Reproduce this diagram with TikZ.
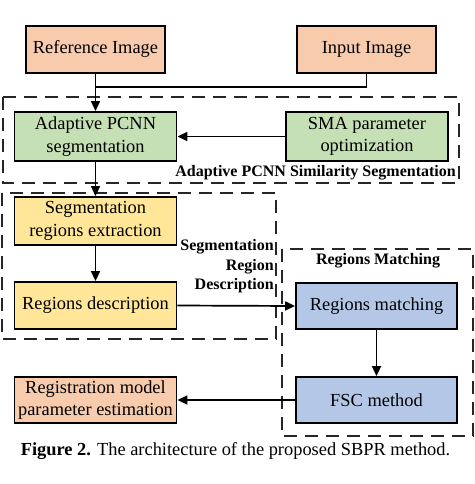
\documentclass[tikz,border=0pt]{standalone}
\usepackage{fontspec}
\setmainfont{Liberation Serif}
\usetikzlibrary{arrows.meta}
\definecolor{peach}{HTML}{F8CBAD}
\definecolor{sgreen}{HTML}{C5E0B4}
\definecolor{syellow}{HTML}{FFE699}
\definecolor{sblue}{HTML}{B4C7E7}
\tikzset{
  blk/.style={draw=black, line width=1.8pt, align=center, inner sep=0pt,
    font=\fontsize{18.4}{22.5}\selectfont},
  grp/.style={draw=black!85, line width=1.8pt, dash pattern=on 13pt off 8pt},
  arr/.style={line width=1.7pt, -{Triangle[length=10pt,width=9pt]}},
  con/.style={line width=1.7pt},
  lbl/.style={font=\fontsize{16}{19.3}\selectfont\bfseries, inner sep=0pt},
}
\begin{document}
\begin{tikzpicture}[x=1pt,y=-1pt]
\useasboundingbox (0,0) rectangle (474,484);
% group boxes
\draw[grp] (3,97) rectangle (459,183);
\draw[grp] (2,193) rectangle (276,339);
\draw[grp] (282,249) rectangle (473,436);
% blocks
\node[blk, fill=peach, minimum width=139pt, minimum height=47pt] (ref) at (95.5,49.5) {Reference Image};
\node[blk, fill=peach, minimum width=139pt, minimum height=47pt] (inp) at (366.5,49.5) {Input Image};
\node[blk, fill=sgreen, minimum width=162pt, minimum height=49pt] (apc) at (95.5,136.5) {Adaptive PCNN\\segmentation};
\node[blk, fill=sgreen, minimum width=162pt, minimum height=49pt] (sma) at (367,136.5) {SMA parameter\\optimization};
\node[blk, fill=syellow, minimum width=162pt, minimum height=48pt] (sre) at (95.5,221) {Segmentation\\regions extraction};
\node[blk, fill=syellow, minimum width=162pt, minimum height=47pt] (rd) at (95.5,305.5) {Regions description};
\node[blk, fill=sblue, minimum width=161pt, minimum height=46pt] (rm) at (376.5,306) {Regions matching};
\node[blk, fill=sblue, minimum width=161pt, minimum height=46pt] (fsc) at (376.5,400) {FSC method};
\node[blk, fill=peach, minimum width=162pt, minimum height=46pt] (rmp) at (95.5,400) {Registration model\\parameter estimation};
% labels
\node[lbl, anchor=base east] (l1) at (456,176) {Adaptive PCNN Similarity Segmentation};
\node[lbl, align=right, anchor=north east] (l2) at (274,239.5) {Segmentation\\Region\\Description};
\node[lbl] (l3) at (378,260.5) {Regions Matching};
\node[font=\fontsize{18.4}{22}\selectfont, anchor=base] (cap) at (235.5,455) {\textbf{Figure 2.} The architecture of the proposed SBPR method.};
% connectors
\coordinate (j) at (ref.south |- 0,87);
\draw[con] (inp.south) |- (j);
\draw[arr] (ref.south) -- (apc.north);
\draw[arr] (sma.west) -- (apc.east);
\draw[arr] (apc.south) -- (sre.north);
\draw[arr] (sre.south) -- (rd.north);
\draw[arr] (rd.east) -- (rm.west);
\draw[arr] (rm.south) -- (fsc.north);
\draw[arr] (fsc.west) -- (rmp.east);
\end{tikzpicture}
\end{document}
